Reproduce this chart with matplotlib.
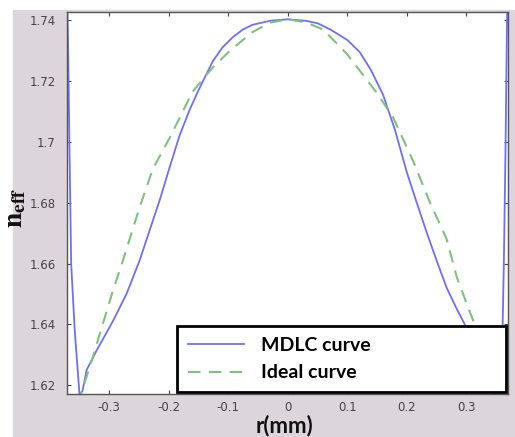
import numpy as np
import matplotlib.pyplot as plt
from matplotlib.patches import Rectangle

# MDLC curve
r_mdlc = [-0.372, -0.369, -0.367, -0.364, -0.358, -0.350, -0.345, -0.338, -0.321,
          -0.294, -0.271, -0.249, -0.232, -0.215, -0.198, -0.182, -0.165, -0.150,
          -0.126, -0.110, -0.092, -0.075, -0.059, -0.030, 0.0, 0.030, 0.050, 0.071,
          0.100, 0.121, 0.140, 0.160, 0.180, 0.200, 0.215, 0.232, 0.250, 0.267,
          0.284, 0.300, 0.321, 0.338, 0.348, 0.355, 0.361, 0.363, 0.366, 0.368,
          0.370]
n_mdlc = [1.760, 1.730, 1.700, 1.660, 1.638, 1.617, 1.618, 1.625, 1.6315,
          1.641, 1.650, 1.661, 1.671, 1.681, 1.692, 1.702, 1.7105, 1.717,
          1.7265, 1.731, 1.7345, 1.737, 1.7385, 1.7398, 1.7403, 1.7398, 1.739, 1.737,
          1.7335, 1.7295, 1.7235, 1.7155, 1.704, 1.690, 1.681, 1.671, 1.661, 1.652,
          1.645, 1.639, 1.631, 1.624, 1.617, 1.625, 1.640, 1.660, 1.700, 1.735,
          1.760]

# Ideal curve
r_ideal = [-0.352, -0.346, -0.328, -0.311, -0.294, -0.277, -0.249, -0.227, -0.198,
           -0.160, -0.126, -0.097, -0.060, -0.030, 0.0, 0.030, 0.059, 0.099, 0.150,
           0.177, 0.210, 0.239, 0.267, 0.284, 0.306, 0.314, 0.330, 0.346, 0.352]
n_ideal = [1.614, 1.618, 1.629, 1.640, 1.651, 1.661, 1.6785, 1.691, 1.7015,
           1.7165, 1.7245, 1.730, 1.736, 1.7392, 1.7403, 1.7393, 1.737, 1.729, 1.716,
           1.708, 1.694, 1.680, 1.668, 1.6555, 1.644, 1.640, 1.629, 1.618, 1.614]

xticks = [-0.3, -0.2, -0.1, 0, 0.1, 0.2, 0.3]
xtick_labels = ['-0.3', '-0.2', '-0.1', '0', '0.1', '0.2', '0.3']
yticks = [1.62, 1.64, 1.66, 1.68, 1.70, 1.72, 1.74]
ytick_labels = ['1.62', '1.64', '1.66', '1.68', '1.7', '1.72', '1.74']

plt.rcParams['mathtext.fontset'] = 'stix'

fig = plt.figure(figsize=(5.15, 4.37), dpi=100)
fig.patch.set_facecolor('white')
# gray panel behind the axes (white strip on top and left)
fig.patches.append(Rectangle((13 / 515, 0), 1, (437 - 10) / 437,
                             transform=fig.transFigure, color='#dcd6dc', zorder=-1))

ax = fig.add_axes([67 / 515, 43 / 437, 441 / 515, 382 / 437])
ax.set_facecolor('white')

ax.plot(r_mdlc, n_mdlc, color='#6e6eff', lw=1.3, label='MDLC curve')
ax.plot(r_ideal, n_ideal, color='#7cc47c', lw=1.5, dashes=(6, 4), label='Ideal curve')

ax.set_xlim(-0.371, 0.370)
ax.set_ylim(1.6171, 1.7427)
ax.set_xticks(xticks)
ax.set_xticklabels(xtick_labels)
ax.set_yticks(yticks)
ax.set_yticklabels(ytick_labels)

ax.tick_params(direction='in', length=3, width=0.8, top=True, right=True,
               colors='#444444', labelsize=8.5)
ax.tick_params(axis='y', pad=8)
ax.tick_params(axis='x', pad=5)
for sp in ax.spines.values():
    sp.set_color('#555555')
    sp.set_linewidth(1.0)

ax.set_xlabel('r(mm)', fontsize=16, fontfamily='Lato', fontweight='bold', color='#111111')
ax.xaxis.set_label_coords(0.494, -0.055)
ax.set_ylabel(r'$\mathbf{n_{eff}}$', fontsize=20, color='#111111')
ax.yaxis.set_label_coords(-0.088, 0.487)

leg = ax.legend(loc='lower left', bbox_to_anchor=(0.249, 0.005, 0.746, 0.176),
                mode='expand', fancybox=False, framealpha=1, edgecolor='black',
                prop={'family': 'Lato', 'weight': 'bold', 'size': 14},
                handlelength=2.9, handletextpad=0.9, borderpad=0.55,
                labelspacing=0.55, borderaxespad=0)
leg.get_frame().set_linewidth(2)

plt.savefig('out.png', dpi=100)
